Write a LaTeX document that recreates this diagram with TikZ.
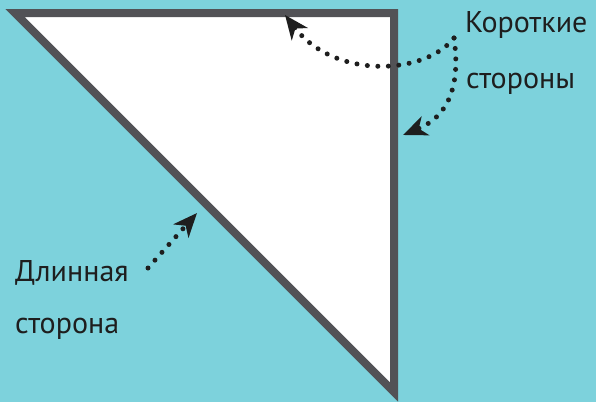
\documentclass[tikz,border=0pt]{standalone}
\usepackage{fontspec}
\setmainfont{PT Sans}
\usepackage{xcolor}
\usetikzlibrary{arrows.meta}

\definecolor{sea}{RGB}{125,210,220}
\definecolor{rim}{RGB}{82,82,86}
\definecolor{ink}{RGB}{30,30,30}

\begin{document}
\begin{tikzpicture}[
  x=1pt, y=-1pt,
  label/.style={anchor=base west, inner sep=0pt, font=\fontsize{30}{30}\selectfont, text=ink},
  pointer/.style={
    ink, line width=5pt, line cap=round,
    dash pattern=on 0pt off 10.5pt,
    -{Stealth[length=24pt, width=20pt, inset=7pt]},
  },
]
% background and bounding box
\fill[sea] (0,0) rectangle (596,402);
\useasboundingbox (0,0) rectangle (596,402);

% the triangle
\coordinate (tl) at (15,13);
\coordinate (tr) at (394,13);
\coordinate (br) at (394,392);
\draw[rim, fill=white, line width=8pt, line join=miter] (tl) -- (tr) -- (br) -- cycle;

% labels
\node[label] (short)  at (465,32) {Короткие};
\node[label] (shortb) at (466,88) {стороны};
\node[label] (long)   at (15,281) {Длинная};
\node[label] (longb)  at (15,333) {сторона};

% arrow targets
\coordinate (fork) at (454,38);
\coordinate (topside) at (285,15);
\coordinate (rightside) at (403,135);
\coordinate (diag) at (197,213);
\coordinate (longstart) at (148,268);

\draw[pointer] (fork) .. controls (425,75) and (335,80) .. (topside);
\draw[pointer] (fork) .. controls (460,80) and (452,115) .. (rightside);
\draw[pointer] (longstart) -- (diag);
\end{tikzpicture}
\end{document}
